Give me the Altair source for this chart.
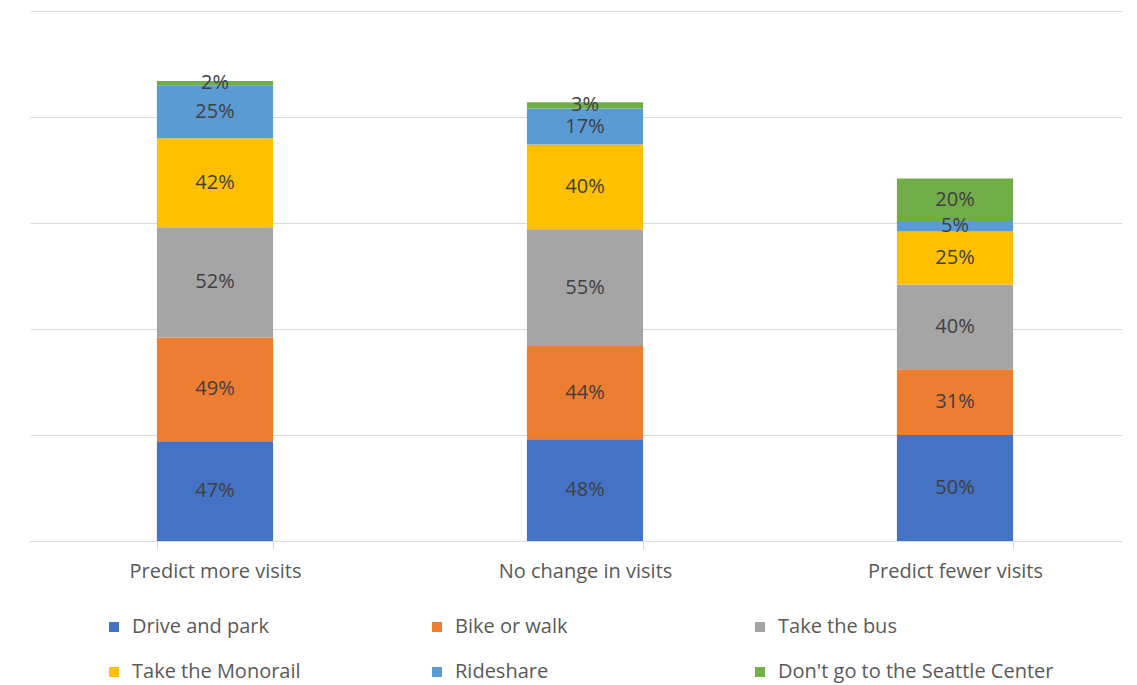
import altair as alt
import pandas as pd

categories = ["Predict more visits", "No change in visits", "Predict fewer visits"]
series = ["Drive and park", "Bike or walk", "Take the bus", "Take the Monorail",
          "Rideshare", "Don't go to the Seattle Center"]
colors = ["#4472C4", "#ED7D31", "#A5A5A5", "#FFC000", "#5B9BD5", "#70AD47"]
values = {
    "Predict more visits":  [47, 49, 52, 42, 25, 2],
    "No change in visits":  [48, 44, 55, 40, 17, 3],
    "Predict fewer visits": [50, 31, 40, 25, 5, 20],
}

rows = []
for c in categories:
    for i, s in enumerate(series):
        rows.append({"category": c, "series": s, "order": i, "value": values[c][i]})
df = pd.DataFrame(rows)

FONT = "Open Sans"
FS = 20

base = alt.Chart(df).transform_stack(
    stack="value", groupby=["category"], as_=["y0", "y1"],
    sort=[alt.SortField("order", order="ascending")]
).transform_calculate(
    mid="(datum.y0 + datum.y1) / 2",
    label="datum.value + '%'"
)

x_enc = alt.X("category:N", sort=categories, title=None,
              scale=alt.Scale(paddingInner=0.686, paddingOuter=0.343, range=[0, 1110]),
              axis=alt.Axis(labelAngle=0, tickBand="extent", domainColor="#D9D9D9",
                            tickColor="#D9D9D9", tickSize=8, labelFont=FONT,
                            labelFontSize=FS, labelColor="#595959", labelPadding=12,
                            grid=False))

bars = base.mark_bar().encode(
    x=x_enc,
    y=alt.Y("y0:Q", title=None,
            scale=alt.Scale(domain=[0, 250], nice=False),
            axis=alt.Axis(values=[0, 50, 100, 150, 200, 250], labels=False, ticks=False,
                          domain=False, gridColor="#D9D9D9", gridWidth=1)),
    y2="y1:Q",
    color=alt.Color("series:N", sort=series,
                    scale=alt.Scale(domain=series, range=colors),
                    legend=alt.Legend(title=None, orient="none", legendX=74, legendY=606,
                                      direction="horizontal", columns=3,
                                      columnPadding=19, rowPadding=25,
                                      symbolType="square", symbolSize=100,
                                      symbolStrokeWidth=0, labelOffset=8,
                                      labelFont=FONT, labelFontSize=FS,
                                      labelLimit=500,
                                      labelColor="#595959")),
)

labels = base.mark_text(font=FONT, fontSize=FS, color="#404040").encode(
    x=alt.X("category:N", sort=categories),
    y=alt.Y("mid:Q"),
    text="label:N",
)

chart = (bars + labels).properties(
    width=1092, height=530,
    padding={"left": 22, "top": 3, "right": 0, "bottom": 143},
    autosize=alt.AutoSizeParams(type="none"),
).configure_view(stroke=None).configure_legend(gridAlign="all")

chart.save("out.html", embed_options={"renderer": "svg", "actions": False})
